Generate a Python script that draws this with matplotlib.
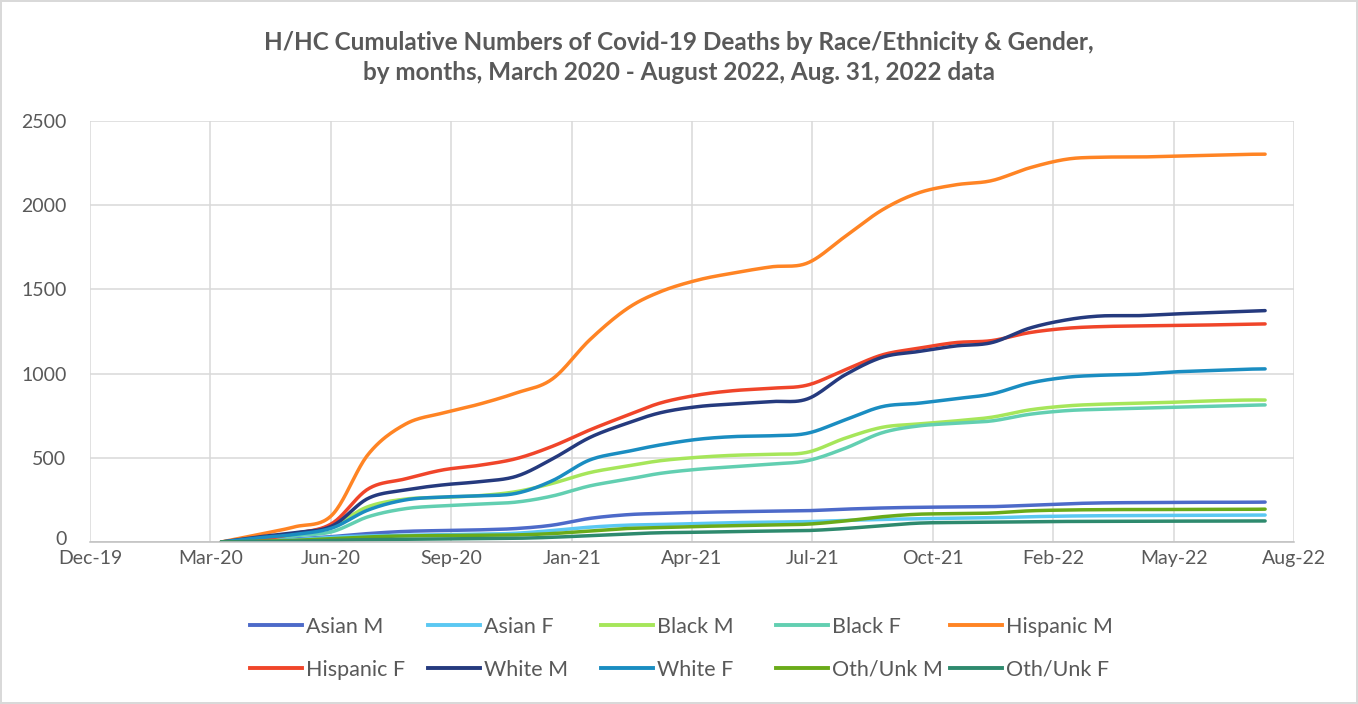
import numpy as np
import pandas as pd
import matplotlib
matplotlib.use("Agg")
import matplotlib.pyplot as plt
import matplotlib.dates as mdates
import matplotlib.transforms as mtransforms
from matplotlib.lines import Line2D

plt.rcParams["font.family"] = ["Lato", "DejaVu Sans"]

# sample dates (one point per month, Mar 2020 - Aug 2022)
dates = ["2020-03-19", "2020-04-19", "2020-05-19", "2020-06-19", "2020-07-19",
         "2020-08-19", "2020-09-19", "2020-10-19", "2020-11-19", "2020-12-19",
         "2021-01-19", "2021-02-19", "2021-03-19", "2021-04-19", "2021-05-19",
         "2021-06-19", "2021-07-19", "2021-08-19", "2021-09-19", "2021-10-19",
         "2021-11-19", "2021-12-19", "2022-01-19", "2022-02-19", "2022-03-19",
         "2022-04-19", "2022-05-19", "2022-06-19", "2022-07-19", "2022-08-03"]

asian_m = [0, 8, 18, 32, 50, 63, 68, 72, 80, 100, 140, 162, 170, 176, 180,
           183, 186, 195, 202, 206, 208, 210, 218, 227, 232, 234, 235, 236, 236, 237]
asian_f = [0, 6, 14, 28, 36, 40, 43, 46, 52, 68, 88, 100, 104, 110, 115,
           118, 121, 128, 134, 138, 141, 144, 150, 154, 156, 157, 158, 159, 160, 160]
black_m = [0, 25, 50, 97, 210, 255, 265, 275, 299, 348, 412, 451, 483, 503, 515,
           521, 533, 616, 681, 701, 719, 741, 784, 808, 818, 824, 830, 838, 843, 843]
black_f = [0, 18, 38, 61, 150, 198, 215, 225, 237, 273, 333, 372, 408, 432, 447,
           463, 483, 556, 649, 689, 705, 719, 758, 780, 788, 794, 800, 806, 812, 814]
hisp_m = [0, 45, 90, 160, 520, 700, 766, 818, 885, 968, 1200, 1385, 1487, 1556, 1598,
          1634, 1657, 1813, 1972, 2073, 2121, 2146, 2221, 2273, 2285, 2286, 2291, 2297, 2302, 2303]
hisp_f = [0, 15, 50, 110, 315, 375, 428, 455, 495, 568, 665, 752, 826, 873, 899,
          913, 932, 1022, 1111, 1150, 1184, 1196, 1243, 1269, 1279, 1283, 1285, 1289, 1293, 1295]
white_m = [0, 30, 55, 95, 259, 309, 339, 358, 390, 493, 620, 705, 768, 804, 820,
           834, 850, 992, 1097, 1131, 1164, 1184, 1269, 1319, 1342, 1344, 1354, 1362, 1370, 1374]
white_f = [0, 25, 45, 83, 190, 250, 267, 274, 289, 364, 487, 537, 577, 610, 626,
           631, 646, 725, 804, 824, 851, 879, 943, 978, 990, 996, 1010, 1018, 1026, 1028]
oth_m = [0, 4, 10, 20, 30, 36, 38, 40, 42, 50, 65, 80, 85, 92, 97,
         101, 106, 125, 150, 165, 168, 172, 185, 190, 192, 193, 193, 194, 194, 195]
oth_f = [0, 2, 5, 10, 14, 16, 18, 20, 22, 28, 38, 48, 55, 58, 62,
         65, 68, 80, 97, 112, 116, 118, 121, 122, 123, 123, 124, 124, 125, 125]

labels = ["Asian M", "Asian F", "Black M", "Black F", "Hispanic M",
          "Hispanic F", "White M", "White F", "Oth/Unk M", "Oth/Unk F"]
series = [asian_m, asian_f, black_m, black_f, hisp_m,
          hisp_f, white_m, white_f, oth_m, oth_f]
colors = ["#4D6AC9", "#5BC8F2", "#A6E65A", "#62CFB1", "#FF8424",
          "#F0452A", "#253A7E", "#1A8DC1", "#6AAB19", "#2E8A6E"]


def smooth(x, y, n=24):
    # bezier smoothing like excel's "smoothed line"
    p = np.column_stack([x, y]).astype(float)
    p = np.vstack([p[0], p, p[-1]])
    t = np.linspace(0, 1, n)[:, None]
    out = []
    for i in range(1, len(p) - 2):
        p0, p1, p2, p3 = p[i - 1], p[i], p[i + 1], p[i + 2]
        c1 = p1 + (p2 - p0) / 6
        c2 = p2 - (p3 - p1) / 6
        seg = (1 - t) ** 3 * p1 + 3 * (1 - t) ** 2 * t * c1 + 3 * (1 - t) * t ** 2 * c2 + t ** 3 * p2
        out.append(seg if i == 1 else seg[1:])
    return np.vstack(out)


x = mdates.date2num(pd.to_datetime(dates))

fig = plt.figure(figsize=(13.58, 7.04), dpi=100)
fig.patch.set_edgecolor("#d9d9d9")
fig.patch.set_linewidth(1.5)
ax = fig.add_axes([90 / 1358, 1 - 542 / 704, (1294 - 90) / 1358, (542 - 121) / 704])

handles = []
for vals, lab, col in zip(series, labels, colors):
    pts = smooth(x, vals)
    ln, = ax.plot(pts[:, 0], pts[:, 1], color=col, lw=2.5, solid_capstyle="round", label=lab)
    handles.append(ln)

x0 = mdates.date2num(pd.Timestamp("2019-12-01"))
ax.set_xlim(x0, x0 + 1000)
ax.set_xticks(x0 + np.arange(0, 1001, 100))
ax.xaxis.set_major_formatter(mdates.DateFormatter("%b-%y"))
ax.set_ylim(0, 2500)
ax.set_yticks(np.arange(0, 2501, 500))

ax.grid(True, color="#d9d9d9", lw=1.1)
ax.set_axisbelow(True)
for s in ["top", "right", "left"]:
    ax.spines[s].set_visible(False)
ax.spines["bottom"].set_color("#bfbfbf")
ax.spines["bottom"].set_linewidth(1.1)
ax.tick_params(axis="both", length=0, labelsize=14, labelcolor="#595959")
ax.tick_params(axis="y", pad=17)
ax.tick_params(axis="x", pad=5.5)

# keep the "0" label clear of the first date label
fig.canvas.draw()
zero = ax.get_yticklabels()[0]
zero.set_va("baseline")
zero.set_transform(zero.get_transform() + mtransforms.ScaledTranslation(0, -2 / 72, fig.dpi_scale_trans))

fig.text(0.5, 1 - 43 / 704,
         "H/HC Cumulative Numbers of Covid-19 Deaths by Race/Ethnicity & Gender,",
         ha="center", va="center", fontsize=17.5, fontweight="bold", color="#595959")
fig.text(0.5, 1 - 73 / 704,
         "by months, March 2020 - August 2022, Aug. 31, 2022 data",
         ha="center", va="center", fontsize=17.5, fontweight="bold", color="#595959")

# legend: 5 equal-width columns, 2 rows
col_x = [250, 428, 601, 776, 950]
for j, cx in enumerate(col_x):
    hs = [handles[j], handles[j + 5]]
    lh = [Line2D([], [], color=h.get_color(), lw=2.8) for h in hs]
    leg = fig.legend(lh, [h.get_label() for h in hs], loc="upper left",
                     bbox_to_anchor=(cx / 1358, 1 - 617 / 704), frameon=False,
                     fontsize=15.5, handlelength=2.4, handletextpad=0.2,
                     labelspacing=1.05, borderaxespad=0, borderpad=0)
    for t in leg.get_texts():
        t.set_color("#595959")

fig.savefig("out.png", dpi=100)
